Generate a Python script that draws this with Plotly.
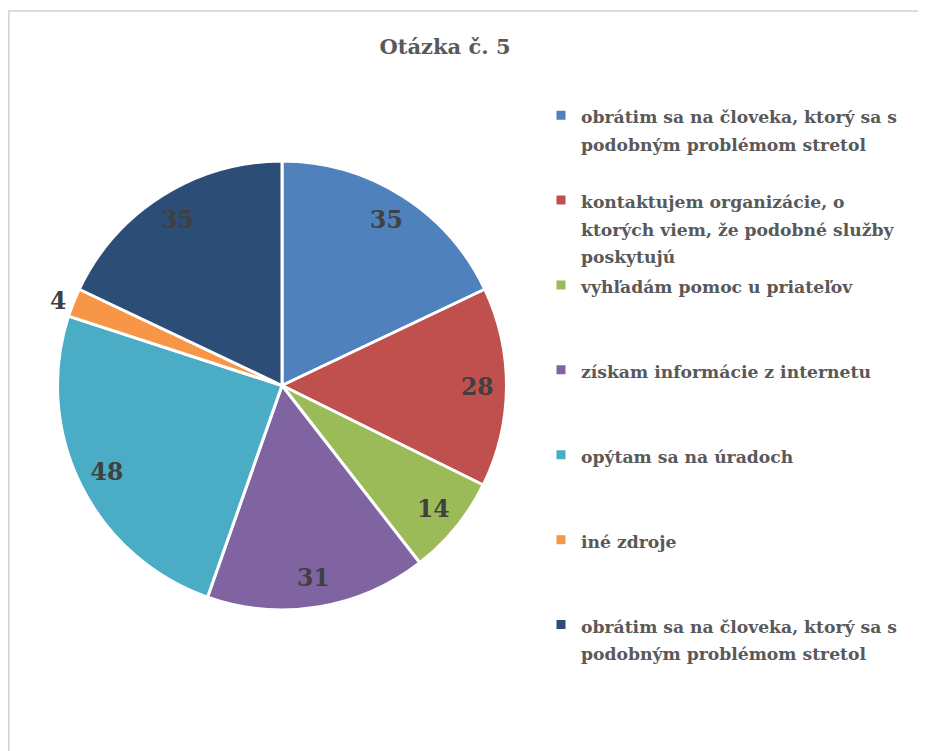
import plotly.graph_objects as go

title = "Otázka č. 5"
labels = [
    "obrátim sa na človeka, ktorý sa s<br>podobným problémom stretol",
    "kontaktujem organizácie, o<br>ktorých viem, že podobné služby<br>poskytujú",
    "vyhľadám pomoc u priateľov",
    "získam informácie z internetu",
    "opýtam sa na úradoch",
    "iné zdroje",
    "obrátim sa na človeka, ktorý sa s<br>podobným problémom stretol",
]
values = [35, 28, 14, 31, 48, 4, 35]
colors = ["#4F81BD", "#C0504D", "#9BBB59", "#8064A2", "#4BACC6", "#F79646", "#2C4D75"]

W, H = 926, 751
OFF = 8  # page body margin
SERIF = "DejaVu Serif"
LEG_PX = 17.2


def px_x(x):
    return (x - OFF) / W


def px_y(y):
    return 1 - (y - OFF) / H


# legend padding so every entry occupies 3 lines (Excel-like even spacing)
def pad(lbl, is_last):
    n = lbl.count("<br>") + 1
    sp = "<span style='font-size:%spx'><b>" % LEG_PX
    txt = sp + lbl.replace("<br>", "</b></span><br>" + sp) + "</b></span>"
    if not is_last:
        txt += "<br>\u00a0" * (3 - n)
    return txt


legend_labels = [pad(l, i == len(labels) - 1) for i, l in enumerate(labels)]

small = [v < 8 for v in values]
positions = ["outside" if s else "inside" for s in small]
domain = dict(x=[px_x(56), px_x(508)], y=[px_y(610), px_y(161)])
lab_font = dict(family=SERIF, size=23.5, color="#404040")

# main pie (slices + legend); carries only the outside label, invisible, so its
# geometry matches the label ring trace exactly
fig = go.Figure(go.Pie(
    labels=legend_labels,
    values=values,
    sort=False,
    direction="clockwise",
    rotation=0,
    marker=dict(colors=colors, line=dict(color="white", width=3)),
    texttemplate=["<b>%{value}</b>" if s else "" for s in small],
    textposition=["outside" if s else "none" for s in small],
    outsidetextfont=dict(family=SERIF, size=23.5, color="rgba(0,0,0,0)"),
    domain=domain,
    hoverinfo="label+value",
    showlegend=True,
))

# label ring: transparent donut so value labels sit near the outer edge
fig.add_trace(go.Pie(
    labels=legend_labels,
    values=values,
    sort=False,
    direction="clockwise",
    rotation=0,
    hole=0.74,
    marker=dict(colors=["rgba(0,0,0,0)"] * len(values), line=dict(width=0)),
    texttemplate="<b>%{value}</b>",
    textposition=positions,
    insidetextorientation="horizontal",
    textfont=lab_font,
    insidetextfont=lab_font,
    outsidetextfont=lab_font,
    domain=domain,
    hoverinfo="skip",
    showlegend=False,
))

fig.update_layout(
    width=W, height=H,
    margin=dict(l=0, r=0, t=0, b=0),
    paper_bgcolor="white",
    title=dict(text="<b>" + title + "</b>", x=px_x(445), xanchor="center",
               y=px_y(47), yanchor="middle",
               font=dict(family=SERIF, size=21, color="#595959")),
    showlegend=True,
    legend=dict(
        x=px_x(541), xanchor="left",
        y=px_y(95), yanchor="top",
        valign="top",
        font=dict(family=SERIF, size=21, color="#595959"),
        bgcolor="rgba(0,0,0,0)",
    ),
    shapes=[dict(type="rect", xref="paper", yref="paper",
                 x0=0.8 / W, x1=1.05, y0=-0.05, y1=px_y(11),
                 line=dict(color="#d4d4d4", width=1.5), layer="below")],
)

fig.write_html("out.html")
